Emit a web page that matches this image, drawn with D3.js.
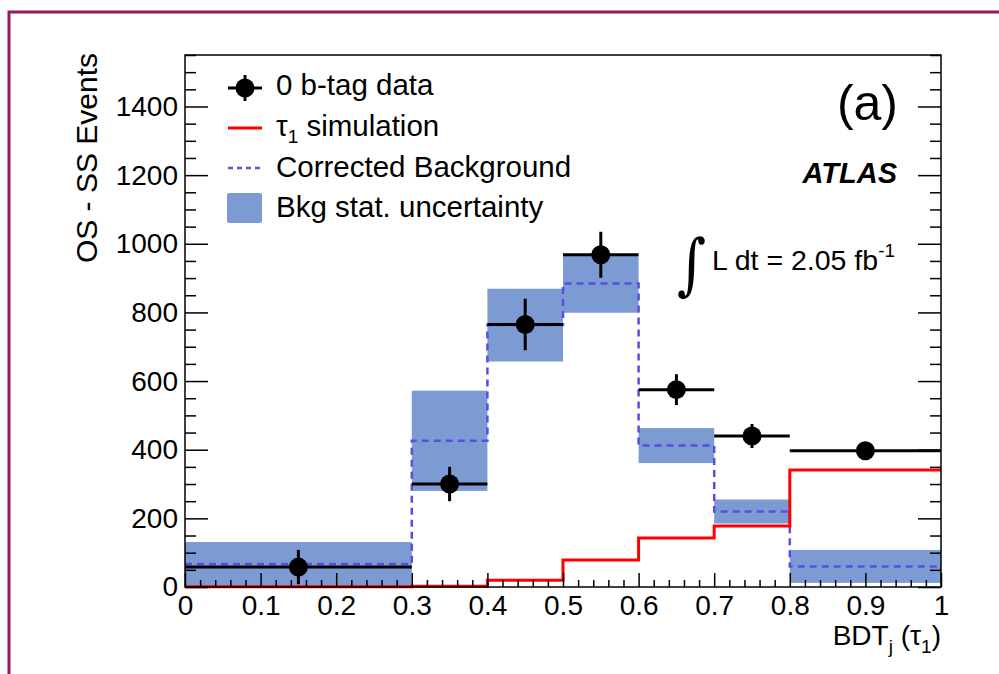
<!DOCTYPE html>
<html><head><meta charset="utf-8">
<script src="https://cdn.jsdelivr.net/npm/d3@7"></script>
<style>
body{margin:0;background:#fff;}
svg{display:block;font-family:"Liberation Sans",Arial,Helvetica,sans-serif;}
</style></head>
<body>
<svg id="c" width="999" height="674"></svg>
<script>
// ---- data ----
const binEdges = [0, 0.3, 0.4, 0.5, 0.6, 0.7, 0.8, 1.0];
const dataValues = [58, 300, 765, 968, 575, 440, 397];
const dataErrors = [50, 50, 75, 67, 45, 35, 25];
const bkgValues = [67, 426, 763, 884, 412, 220, 60];
const bkgErrors = [64, 146, 106, 85, 51, 35, 48];
const tauValues = [1, 2, 20, 79, 143, 178, 341];
const xTicks = [0, 0.1, 0.2, 0.3, 0.4, 0.5, 0.6, 0.7, 0.8, 0.9, 1];
const yTicks = [0, 200, 400, 600, 800, 1000, 1200, 1400];
const legendLabels = ["0 b-tag data", "τ1 simulation", "Corrected Background", "Bkg stat. uncertainty"];

const svg = d3.select("#c");
const L = 185, R = 941, T = 55, B = 587;
const x = d3.scaleLinear().domain([0, 1]).range([L, R]);
const y = d3.scaleLinear().domain([0, 1550]).range([B, T]);

// maroon page frame
svg.append("path").attr("d", `M9,674 L9,12 L999,12`).attr("fill", "none")
  .attr("stroke", "#961a56").attr("stroke-width", 3);

const bins = dataValues.map((d, i) => ({x0: binEdges[i], x1: binEdges[i + 1], d, de: dataErrors[i], b: bkgValues[i], be: bkgErrors[i], t: tauValues[i]}));

// uncertainty band
svg.append("g").selectAll("rect").data(bins).join("rect")
  .attr("x", d => x(d.x0)).attr("width", d => x(d.x1) - x(d.x0))
  .attr("y", d => y(Math.min(1550, d.b + d.be)))
  .attr("height", d => y(Math.max(0, d.b - d.be)) - y(Math.min(1550, d.b + d.be)))
  .attr("fill", "#7b9bd2");

// step path helper
function stepPath(vals) {
  const p = d3.path();
  vals.forEach((v, i) => {
    if (i === 0) p.moveTo(x(binEdges[0]), y(v)); else p.lineTo(x(binEdges[i]), y(v));
    p.lineTo(x(binEdges[i + 1]), y(v));
  });
  return p.toString();
}
svg.append("path").attr("d", stepPath(bkgValues)).attr("fill", "none")
  .attr("stroke", "#5a4ee0").attr("stroke-width", 2.5).attr("stroke-dasharray", "7,5");
svg.append("path").attr("d", stepPath(tauValues)).attr("fill", "none")
  .attr("stroke", "#ff0000").attr("stroke-width", 3);

// data
const gd = svg.append("g");
gd.selectAll("line.h").data(bins).join("line").attr("class", "h")
  .attr("x1", d => x(d.x0)).attr("x2", d => x(d.x1))
  .attr("y1", d => y(d.d)).attr("y2", d => y(d.d))
  .attr("stroke", "#000").attr("stroke-width", 3);
gd.selectAll("line.v").data(bins).join("line").attr("class", "v")
  .attr("x1", d => x((d.x0 + d.x1) / 2)).attr("x2", d => x((d.x0 + d.x1) / 2))
  .attr("y1", d => y(d.d + d.de)).attr("y2", d => y(d.d - d.de))
  .attr("stroke", "#000").attr("stroke-width", 3);
gd.selectAll("circle").data(bins).join("circle")
  .attr("cx", d => x((d.x0 + d.x1) / 2)).attr("cy", d => y(d.d)).attr("r", 9.5).attr("fill", "#000");

// axes
const yAxis = d3.axisLeft(y).tickValues(yTicks).tickSizeInner(-23).tickSizeOuter(0).tickPadding(7).tickFormat(d3.format("d"));
const yMinor = d3.range(0, 1551, 50);
const gy = svg.append("g").attr("transform", `translate(${L},0)`).call(yAxis);
gy.selectAll("text").attr("font-size", 28).attr("fill", "#000").attr("font-family", "Liberation Sans, Arial");
gy.selectAll("line").attr("stroke", "#000").attr("stroke-width", 1.5);
gy.select(".domain").remove();
svg.append("g").attr("transform", `translate(${L},0)`)
  .call(d3.axisLeft(y).tickValues(yMinor.filter(v => v % 200)).tickSizeInner(-11).tickSizeOuter(0).tickFormat(""))
  .call(g => g.select(".domain").remove()).selectAll("line").attr("stroke-width", 1.5);
// right ticks
svg.append("g").attr("transform", `translate(${R},0)`)
  .call(d3.axisRight(y).tickValues(yTicks).tickSizeInner(-23).tickSizeOuter(0).tickFormat(""))
  .call(g => g.select(".domain").remove()).selectAll("line").attr("stroke-width", 1.5);
svg.append("g").attr("transform", `translate(${R},0)`)
  .call(d3.axisRight(y).tickValues(yMinor.filter(v => v % 200)).tickSizeInner(-11).tickSizeOuter(0).tickFormat(""))
  .call(g => g.select(".domain").remove()).selectAll("line").attr("stroke-width", 1.5);

const xAxis = d3.axisBottom(x).tickValues(xTicks).tickSizeInner(-14).tickSizeOuter(0).tickPadding(8)
  .tickFormat(d => d === 0 ? "0" : d === 1 ? "1" : d3.format(".1f")(d));
const gx = svg.append("g").attr("transform", `translate(0,${B})`).call(xAxis);
gx.selectAll("text").attr("font-size", 28).attr("fill", "#000").attr("font-family", "Liberation Sans, Arial");
gx.selectAll("line").attr("stroke-width", 1.5);
gx.select(".domain").remove();
svg.append("g").attr("transform", `translate(0,${B})`)
  .call(d3.axisBottom(x).tickValues(d3.range(0, 50).map(i => i * 0.02).filter((v, i) => i % 5)).tickSizeInner(-7).tickSizeOuter(0).tickFormat(""))
  .call(g => g.select(".domain").remove()).selectAll("line").attr("stroke-width", 1.5);

// frame
svg.append("rect").attr("x", L).attr("y", T).attr("width", R - L).attr("height", B - T)
  .attr("fill", "none").attr("stroke", "#000").attr("stroke-width", 1.5);

// axis titles
svg.append("text").attr("transform", `translate(97,${T - 2}) rotate(-90)`).attr("text-anchor", "end")
  .attr("font-size", 30).text("OS - SS Events");
const xt = svg.append("text").attr("x", R).attr("y", 645).attr("text-anchor", "end").attr("font-size", 28);
xt.append("tspan").text("BDT");
xt.append("tspan").attr("font-size", 19).attr("dy", 8).text("j");
xt.append("tspan").attr("dy", -8).text(" (τ");
xt.append("tspan").attr("font-size", 19).attr("dy", 8).text("1");
xt.append("tspan").attr("dy", -8).text(")");

// legend
const lg = svg.append("g");
const lx0 = 228, lx1 = 262, lt = 276, rows = [95, 136, 177, 217];
lg.append("line").attr("x1", lx0).attr("x2", lx1).attr("y1", 88).attr("y2", 88).attr("stroke", "#000").attr("stroke-width", 3);
lg.append("line").attr("x1", 245).attr("x2", 245).attr("y1", 75).attr("y2", 101).attr("stroke", "#000").attr("stroke-width", 3);
lg.append("circle").attr("cx", 245).attr("cy", 88).attr("r", 9.5);
lg.append("line").attr("x1", lx0).attr("x2", lx1).attr("y1", 128).attr("y2", 128).attr("stroke", "#ff0000").attr("stroke-width", 3);
lg.append("line").attr("x1", lx0).attr("x2", lx1).attr("y1", 168).attr("y2", 168).attr("stroke", "#5a4ee0").attr("stroke-width", 2.5).attr("stroke-dasharray", "5,4");
lg.append("rect").attr("x", 227).attr("y", 193).attr("width", 35).attr("height", 30).attr("rx", 2).attr("fill", "#7b9bd2");
lg.append("text").attr("x", lt).attr("y", rows[0]).attr("font-size", 29.5).text(legendLabels[0]);
const t1 = lg.append("text").attr("x", lt).attr("y", rows[1]).attr("font-size", 29.5);
t1.append("tspan").text("τ");
t1.append("tspan").attr("font-size", 19).attr("dy", 7).text("1");
t1.append("tspan").attr("dy", -7).text(" simulation");
lg.append("text").attr("x", lt).attr("y", rows[2]).attr("font-size", 29.5).text(legendLabels[2]);
lg.append("text").attr("x", lt).attr("y", rows[3]).attr("font-size", 29.5).text(legendLabels[3]);

// labels
svg.append("text").attr("x", 898).attr("y", 120).attr("text-anchor", "end").attr("font-size", 50).text("(a)");
svg.append("text").attr("x", 897).attr("y", 183).attr("text-anchor", "end").attr("font-size", 29)
  .attr("font-weight", "bold").attr("font-style", "italic").text("ATLAS");
svg.append("text").attr("x", 677).attr("y", 284).attr("font-size", 56).attr("transform", "scale(1,1.2)").attr("transform-origin", "697 270").attr("font-family", "DejaVu Serif").text("∫");
const lum = svg.append("text").attr("x", 712).attr("y", 270).attr("font-size", 28.5);
lum.append("tspan").text("L dt = 2.05 fb");
lum.append("tspan").attr("font-size", 19).attr("dy", -13).text("-1");
</script>
</body></html>
